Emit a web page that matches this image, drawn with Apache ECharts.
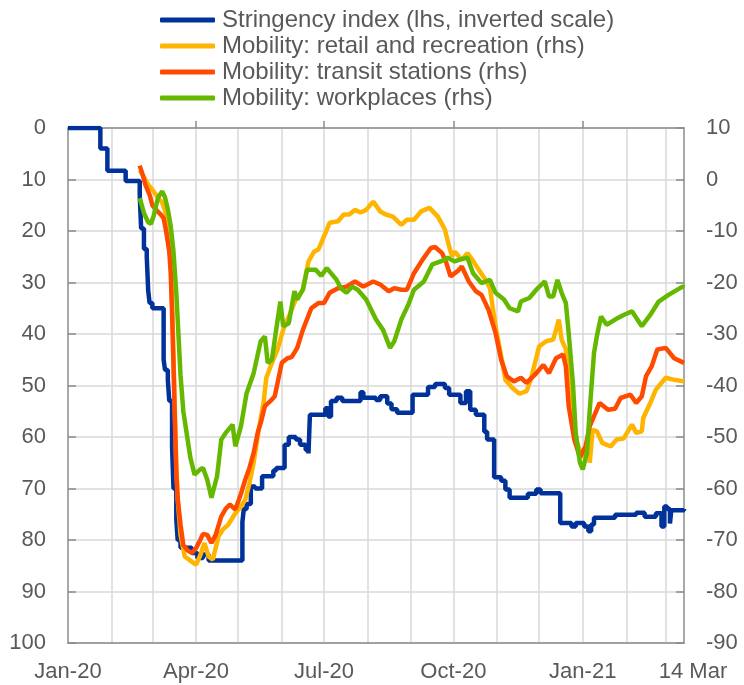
<!DOCTYPE html>
<html>
<head>
<meta charset="utf-8">
<script src="https://cdn.jsdelivr.net/npm/echarts@6/dist/echarts.min.js"></script>
<style>
  html, body { margin: 0; padding: 0; background: #fff; }
  #main { width: 744px; height: 685px; }
</style>
</head>
<body>
<div id="main"></div>
<script>
// series names (legend order)
var seriesNames = [
  'Stringency index (lhs, inverted scale)',
  'Mobility: retail and recreation (rhs)',
  'Mobility: transit stations (rhs)',
  'Mobility: workplaces (rhs)'
]

// x axis: month grid lines and the labelled dates
var monthStarts = ['2020-02-01','2020-03-01','2020-04-01','2020-05-01','2020-06-01','2020-07-01','2020-08-01',
  '2020-09-01','2020-10-01','2020-11-01','2020-12-01','2021-01-01','2021-02-01','2021-03-01']
var quarterStarts = ['2020-04-01','2020-07-01','2020-10-01','2021-01-01']
var labelDates = ['2020-01-01','2020-04-01','2020-07-01','2020-10-01','2021-01-01','2021-03-14']
var labelTexts = ['Jan-20','Apr-20','Jul-20','Oct-20','Jan-21','14 Mar']

// stringency index, value holds from the given date on (lhs)
var stringency = [
  ['2020-01-01',0],['2020-01-22',0],['2020-01-24',4],['2020-01-29',8.3],['2020-02-11',10.3],['2020-02-21',13],
  ['2020-02-22',19.5],['2020-02-24',23.5],['2020-02-26',25],['2020-02-27',31.5],['2020-02-28',34],
  ['2020-03-01',35],['2020-03-09',45],['2020-03-10',47],['2020-03-12',49],['2020-03-13',53],
  ['2020-03-15',62],['2020-03-16',70],['2020-03-18',76],['2020-03-19',80],['2020-03-21',81.5],
  ['2020-03-29',82.5],['2020-04-02',83.5],['2020-04-06',82.8],['2020-04-10',84],['2020-05-04',76.5],
  ['2020-05-05',74],['2020-05-07',73],['2020-05-10',69.6],['2020-05-13',70],['2020-05-18',67.6],
  ['2020-05-26',66.5],['2020-05-28',66],['2020-06-03',61.5],['2020-06-06',60],['2020-06-11',60.5],
  ['2020-06-14',61.5],['2020-06-18',62.5],['2020-06-20',63.2],['2020-06-21',55.7],['2020-07-02',54.4],
  ['2020-07-04',56],['2020-07-06',53],['2020-07-10',52.4],['2020-07-14',53],['2020-07-27',51.3],
  ['2020-07-29',52.4],['2020-08-07',52.8],['2020-08-10',52.1],['2020-08-15',53.5],['2020-08-18',54.6],
  ['2020-08-22',55.3],['2020-09-02',51.8],['2020-09-13',50.3],['2020-09-18',49.7],['2020-09-25',50.5],
  ['2020-09-28',51.8],['2020-10-06',53.4],['2020-10-10',51.1],['2020-10-13',54.7],['2020-10-17',55.7],
  ['2020-10-23',59],['2020-10-25',60.5],['2020-10-30',67.8],['2020-11-04',68.5],['2020-11-07',70.2],
  ['2020-11-10',71.8],['2020-11-23',71],['2020-11-29',70.2],['2020-12-02',70.9],['2020-12-16',76.7],
  ['2020-12-24',77.4],['2020-12-27',76.7],['2021-01-02',77.4],['2021-01-05',78.3],['2021-01-07',77],
  ['2021-01-09',75.7],['2021-01-24',75.1],['2021-02-08',74.7],['2021-02-14',75.5],['2021-02-22',74.8],
  ['2021-02-26',77.4],['2021-02-28',73.5],['2021-03-02',74],['2021-03-04',76.8],['2021-03-05',74.2],
  ['2021-03-14',74]
]

// mobility, % change from baseline (rhs)
var retail = [
  ['2020-02-21',1.8],['2020-02-24',0.5],['2020-02-27',-1],['2020-03-01',-2],['2020-03-05',-3.5],
  ['2020-03-08',-4.5],['2020-03-10',-6],['2020-03-12',-9],['2020-03-14',-16],['2020-03-15',-24],
  ['2020-03-16',-34],['2020-03-17',-45],['2020-03-18',-55],['2020-03-19',-62],['2020-03-21',-69],
  ['2020-03-24',-73.2],['2020-03-28',-74],['2020-04-01',-74.8],['2020-04-04',-73],['2020-04-07',-70.6],
  ['2020-04-10',-73.2],['2020-04-13',-73.8],['2020-04-17',-69.3],['2020-04-20',-68],['2020-04-24',-67],
  ['2020-04-29',-64.8],['2020-05-03',-63.5],['2020-05-06',-62.2],['2020-05-09',-59],['2020-05-12',-55],
  ['2020-05-16',-48],['2020-05-19',-43.4],['2020-05-21',-38.5],['2020-05-25',-35.6],['2020-05-29',-33],
  ['2020-06-02',-29.2],['2020-06-06',-26.6],['2020-06-11',-23.3],['2020-06-16',-21.4],['2020-06-20',-15.9],
  ['2020-06-24',-14],['2020-06-27',-13.6],['2020-07-02',-10.4],['2020-07-05',-8.4],['2020-07-11',-8.1],
  ['2020-07-15',-6.8],['2020-07-19',-6.8],['2020-07-23',-5.9],['2020-07-27',-6.4],['2020-07-31',-5.9],
  ['2020-08-05',-4.3],['2020-08-10',-6.2],['2020-08-14',-6.8],['2020-08-19',-7.2],['2020-08-25',-8.8],
  ['2020-08-29',-7.8],['2020-09-03',-7.8],['2020-09-08',-6.2],['2020-09-14',-5.5],['2020-09-20',-7.2],
  ['2020-09-25',-9.7],['2020-09-28',-13],['2020-09-30',-14.9],['2020-10-02',-14],['2020-10-07',-15.6],
  ['2020-10-11',-14.3],['2020-10-15',-15.8],['2020-10-19',-17.5],['2020-10-24',-19.5],['2020-10-27',-21.1],
  ['2020-10-31',-28.5],['2020-11-04',-34.3],['2020-11-07',-38.9],['2020-11-12',-40.5],['2020-11-17',-41.6],
  ['2020-11-22',-41.1],['2020-11-25',-38.9],['2020-12-01',-32.4],['2020-12-06',-31.4],['2020-12-11',-31.1],
  ['2020-12-13',-29.2],['2020-12-15',-27.2],['2020-12-17',-31.1],['2020-12-20',-33],['2020-12-22',-38.9],
  ['2020-12-25',-46.6],['2020-12-28',-51.2],['2021-01-01',-53.8],['2021-01-05',-51.2],['2021-01-06',-55],
  ['2021-01-08',-48.6],['2021-01-11',-48.9],['2021-01-15',-51.2],['2021-01-21',-51.8],['2021-01-25',-50.5],
  ['2021-01-30',-50.3],['2021-02-05',-47.6],['2021-02-08',-49.2],['2021-02-12',-48.9],['2021-02-13',-46.3],
  ['2021-02-18',-43.4],['2021-02-22',-40.8],['2021-03-01',-38.5],['2021-03-07',-38.9],['2021-03-14',-39.2]
]
var transit = [
  ['2020-02-21',2.7],['2020-02-23',1],['2020-02-25',-1],['2020-02-28',-3],['2020-03-01',-5],
  ['2020-03-04',-6],['2020-03-07',-6.8],['2020-03-09',-7.5],['2020-03-11',-10.4],['2020-03-13',-14],
  ['2020-03-14',-18],['2020-03-15',-26],['2020-03-16',-36],['2020-03-17',-47],['2020-03-18',-57],
  ['2020-03-19',-62],['2020-03-21',-67],['2020-03-23',-71],['2020-03-26',-72],['2020-03-29',-72.5],
  ['2020-04-01',-71.6],['2020-04-04',-70],['2020-04-06',-68.8],['2020-04-09',-69],['2020-04-12',-70.6],
  ['2020-04-15',-69],['2020-04-19',-65.4],['2020-04-22',-64],['2020-04-25',-63.1],['2020-04-29',-64.1],
  ['2020-05-03',-61],['2020-05-06',-58.3],['2020-05-09',-56],['2020-05-12',-53.1],['2020-05-15',-49],
  ['2020-05-17',-47.3],['2020-05-20',-44],['2020-05-24',-43],['2020-05-27',-42.1],['2020-06-01',-35.6],
  ['2020-06-05',-34.7],['2020-06-08',-34.5],['2020-06-12',-32.7],['2020-06-16',-29.2],['2020-06-22',-25],
  ['2020-06-27',-24],['2020-07-01',-24],['2020-07-05',-22],['2020-07-11',-21.1],['2020-07-17',-20.8],
  ['2020-07-23',-19.8],['2020-07-29',-20.8],['2020-08-05',-19.8],['2020-08-10',-20.4],['2020-08-16',-21.7],
  ['2020-08-20',-21.1],['2020-08-25',-21.4],['2020-08-29',-21.4],['2020-09-03',-18.2],['2020-09-09',-15.6],
  ['2020-09-15',-13.3],['2020-09-18',-13.1],['2020-09-23',-14.3],['2020-09-26',-16.2],['2020-09-29',-18.8],
  ['2020-10-04',-17.8],['2020-10-07',-16.9],['2020-10-12',-19.8],['2020-10-17',-21.7],['2020-10-21',-22.4],
  ['2020-10-26',-25.3],['2020-10-31',-29.8],['2020-11-04',-35],['2020-11-08',-38.2],['2020-11-13',-39.2],
  ['2020-11-18',-38.5],['2020-11-22',-39.5],['2020-11-28',-37.9],['2020-12-04',-36],['2020-12-08',-37.6],
  ['2020-12-13',-34.7],['2020-12-18',-34],['2020-12-20',-36.3],['2020-12-22',-44],['2020-12-26',-50.5],
  ['2020-12-30',-54],['2021-01-03',-51.8],['2021-01-06',-47.9],['2021-01-10',-45.3],['2021-01-13',-43.4],
  ['2021-01-19',-44.7],['2021-01-24',-44.5],['2021-01-28',-42.4],['2021-02-04',-41.8],['2021-02-08',-43.4],
  ['2021-02-12',-42.1],['2021-02-15',-38.2],['2021-02-19',-36.3],['2021-02-23',-33],['2021-03-01',-32.7],
  ['2021-03-07',-34.7],['2021-03-14',-35.6]
]
var workplaces = [
  ['2020-02-21',-3.6],['2020-02-24',-6.5],['2020-02-27',-8.3],['2020-02-29',-8.6],['2020-03-02',-7],
  ['2020-03-05',-3.5],['2020-03-08',-2.3],['2020-03-10',-3.5],['2020-03-12',-5.8],['2020-03-14',-9],
  ['2020-03-16',-14],['2020-03-18',-22],['2020-03-19',-27.2],['2020-03-21',-38],['2020-03-23',-45],
  ['2020-03-25',-48.6],['2020-03-28',-54],['2020-03-31',-57.3],['2020-04-04',-56.3],['2020-04-06',-56],
  ['2020-04-09',-58.3],['2020-04-12',-61.8],['2020-04-16',-57.6],['2020-04-19',-50.5],['2020-04-23',-48.9],
  ['2020-04-27',-47.6],['2020-04-29',-51.8],['2020-05-03',-47.9],['2020-05-07',-41.5],['2020-05-12',-37.6],
  ['2020-05-17',-31.4],['2020-05-20',-30.5],['2020-05-22',-35.6],['2020-05-25',-35],['2020-05-28',-29.2],
  ['2020-05-31',-23.7],['2020-06-02',-28.5],['2020-06-06',-27.9],['2020-06-10',-21.7],['2020-06-12',-23.3],
  ['2020-06-16',-21.4],['2020-06-19',-17.5],['2020-06-25',-17.5],['2020-06-29',-18.7],['2020-07-03',-17.2],
  ['2020-07-10',-19.5],['2020-07-13',-21.1],['2020-07-17',-22],['2020-07-21',-20.8],['2020-07-25',-21.4],
  ['2020-07-31',-23.3],['2020-08-07',-27.2],['2020-08-12',-29.2],['2020-08-17',-32.7],['2020-08-20',-31.4],
  ['2020-08-25',-27.2],['2020-08-30',-24.3],['2020-09-03',-21.4],['2020-09-10',-19.8],['2020-09-16',-16.5],
  ['2020-09-22',-15.9],['2020-09-27',-15.2],['2020-10-02',-15.9],['2020-10-06',-15.5],['2020-10-11',-15.2],
  ['2020-10-15',-18.2],['2020-10-21',-20.1],['2020-10-27',-19.5],['2020-10-31',-22],['2020-11-06',-23.3],
  ['2020-11-10',-25],['2020-11-16',-25.6],['2020-11-18',-23.7],['2020-11-24',-23],['2020-11-29',-21.4],
  ['2020-12-05',-19.8],['2020-12-08',-22.7],['2020-12-11',-22.7],['2020-12-14',-19.5],['2020-12-17',-22],
  ['2020-12-20',-24],['2020-12-22',-29.8],['2020-12-25',-39.5],['2020-12-27',-49.2],['2020-12-30',-55],
  ['2021-01-01',-56.3],['2021-01-04',-53.1],['2021-01-06',-44.7],['2021-01-09',-33.7],['2021-01-11',-30.5],
  ['2021-01-14',-26.6],['2021-01-18',-28.2],['2021-01-24',-27.2],['2021-01-30',-26.3],['2021-02-05',-25.6],
  ['2021-02-12',-28.5],['2021-02-18',-26.3],['2021-02-24',-23.7],['2021-03-03',-22.4],['2021-03-13',-20.8],
  ['2021-03-14',-21]
]

// day number counted from 1 Jan 2020
function dayIndex(s) {
  var p = s.split('-')
  return Math.round((Date.UTC(+p[0], +p[1] - 1, +p[2]) - Date.UTC(2020, 0, 1)) / 86400000)
}
function toPoints(list) {
  return list.map(function (d) { return [dayIndex(d[0]), d[1]] })
}

var axisGrey = '#8c8c8c'
var textGrey = '#595959'
var gridGrey = '#d9d9d9'
var font = 'Liberation Sans'
var labelDays = labelDates.map(dayIndex)
var lastDay = dayIndex('2021-03-14')

var chart = echarts.init(document.getElementById('main'), null, { renderer: 'canvas' })
var option = {
  animation: false,
  textStyle: { fontFamily: font },
  color: ['#003299', '#ffb400', '#ff4b00', '#65b800'],
  legend: {
    orient: 'vertical',
    left: 155,
    top: 2,
    itemWidth: 55,
    itemHeight: 5,
    itemGap: 0,
    icon: 'roundRect',
    data: seriesNames,
    textStyle: { fontSize: 24, color: textGrey, fontFamily: font, lineHeight: 26, padding: [0, 0, 0, 2] }
  },
  grid: { left: 68, right: 60, top: 128, bottom: 42 },
  xAxis: [{
    type: 'value',
    min: 0,
    max: lastDay,
    position: 'bottom',
    axisLine: { show: true, onZero: false, lineStyle: { color: axisGrey, width: 1.5 } },
    axisTick: { show: false, customValues: monthStarts.map(dayIndex) },
    axisLabel: {
      customValues: labelDays,
      color: textGrey,
      fontSize: 22,
      margin: 18,
      formatter: function (v) {
        var i = labelDays.indexOf(Math.round(v))
        if (i < 0) return ''
        // last label sits a little right of the axis end
        return i === labelDays.length - 1 ? '{end|' + labelTexts[i] + '}' : labelTexts[i]
      },
      rich: { end: { fontSize: 22, color: textGrey, fontFamily: font, padding: [0, 0, 0, 18] } }
    },
    splitLine: { show: true, lineStyle: { color: gridGrey, width: 1.5 } }
  }, {
    type: 'value',
    min: 0,
    max: lastDay,
    position: 'top',
    axisLine: { show: true, onZero: false, lineStyle: { color: axisGrey, width: 1.5 } },
    axisTick: { show: true, inside: false, length: 7, customValues: quarterStarts.map(dayIndex),
      lineStyle: { color: axisGrey, width: 1.5 } },
    axisLabel: { show: false },
    splitLine: { show: false }
  }],
  yAxis: [{
    type: 'value',
    inverse: true,
    min: 0,
    max: 100,
    interval: 10,
    position: 'left',
    axisLine: { show: true, onZero: false, lineStyle: { color: axisGrey, width: 1.5 } },
    axisTick: { show: true, inside: true, length: 8, lineStyle: { color: axisGrey, width: 1.5 } },
    axisLabel: { color: textGrey, fontSize: 22, margin: 22 },
    splitLine: { show: true, lineStyle: { color: gridGrey, width: 1.5 } }
  }, {
    type: 'value',
    min: -90,
    max: 10,
    interval: 10,
    position: 'right',
    axisLine: { show: true, onZero: false, lineStyle: { color: axisGrey, width: 1.5 } },
    axisTick: { show: true, inside: true, length: 8, lineStyle: { color: axisGrey, width: 1.5 } },
    axisLabel: { color: textGrey, fontSize: 22, margin: 22 },
    splitLine: { show: false }
  }],
  series: [
    { name: seriesNames[0], type: 'line', yAxisIndex: 0, step: 'end', showSymbol: false,
      lineStyle: { width: 4.5 }, data: toPoints(stringency) },
    { name: seriesNames[1], type: 'line', yAxisIndex: 1, showSymbol: false,
      lineStyle: { width: 4.5 }, data: toPoints(retail) },
    { name: seriesNames[2], type: 'line', yAxisIndex: 1, showSymbol: false,
      lineStyle: { width: 4.5 }, data: toPoints(transit) },
    { name: seriesNames[3], type: 'line', yAxisIndex: 1, showSymbol: false,
      lineStyle: { width: 4.5 }, data: toPoints(workplaces) }
  ]
}
chart.setOption(option)
</script>
</body>
</html>
